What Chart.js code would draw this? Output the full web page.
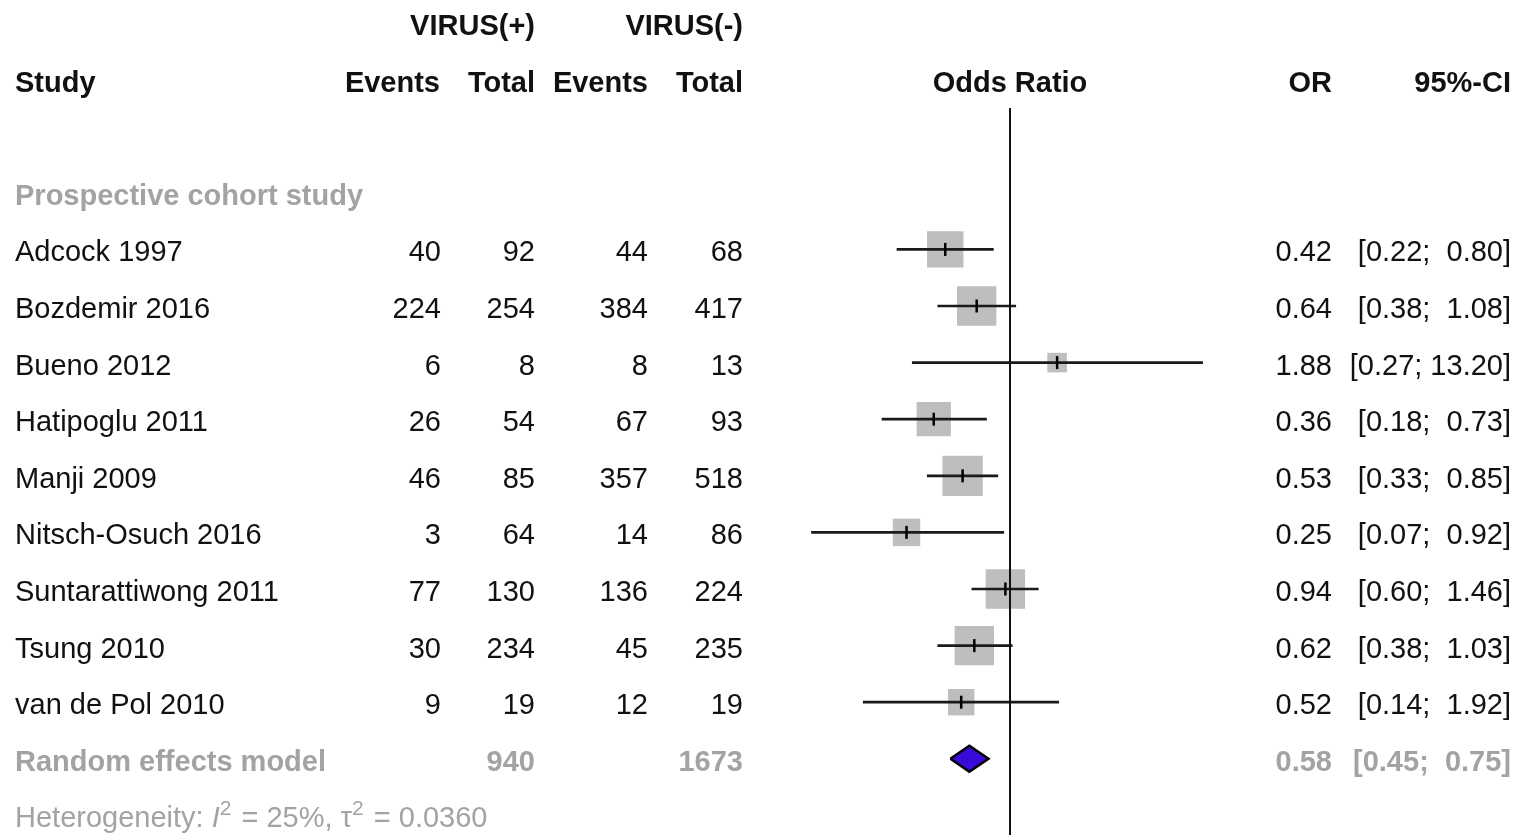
<!DOCTYPE html>
<html>
<head>
<meta charset="utf-8">
<script src="https://cdn.jsdelivr.net/npm/chart.js@4/dist/chart.umd.min.js"></script>
<style>
  html, body { margin: 0; padding: 0; background: #fff; }
  #wrap { width: 1520px; height: 835px; }
</style>
</head>
<body>
<div id="wrap"><canvas id="forest" width="1520" height="835"></canvas></div>
<script>
const studies = ['Adcock 1997', 'Bozdemir 2016', 'Bueno 2012', 'Hatipoglu 2011', 'Manji 2009',
  'Nitsch-Osuch 2016', 'Suntarattiwong 2011', 'Tsung 2010', 'van de Pol 2010'];
const eventsPos = [40, 224, 6, 26, 46, 3, 77, 30, 9];
const totalPos = [92, 254, 8, 54, 85, 64, 130, 234, 19];
const eventsNeg = [44, 384, 8, 67, 357, 14, 136, 45, 12];
const totalNeg = [68, 417, 13, 93, 518, 86, 224, 235, 19];
const oddsRatio = [0.42, 0.64, 1.88, 0.36, 0.53, 0.25, 0.94, 0.62, 0.52];
const ciLow = [0.22, 0.38, 0.27, 0.18, 0.33, 0.07, 0.60, 0.38, 0.14];
const ciHigh = [0.80, 1.08, 13.20, 0.73, 0.85, 0.92, 1.46, 1.03, 1.92];
const weights = [12.5, 14.6, 3.6, 11.1, 15.3, 7.1, 14.6, 14.6, 6.6];
const pooled = [0.58, 0.45, 0.75]; // OR, lower, upper
const pooledTotals = [940, 1673];
const heterogeneity = ['25%', '0.0360'];
const subgroup = 'Prospective cohort study';

const FONT = '"Liberation Sans", Arial, Helvetica, sans-serif';
const FS = 29;
const GREY_TXT = '#a3a3a3';
const firstRow = 4; // row index of first study

const studyRows = studies.map((_, i) => firstRow + i);
const pooledRow = firstRow + studies.length;

function fmt(v) { return v.toFixed(2); }
function ciText(lo, hi) {
  let h = fmt(hi);
  while (h.length < 5) h = ' ' + h;
  return '[' + fmt(lo) + '; ' + h + ']';
}

const tablePlugin = {
  id: 'forestTable',
  afterDraw(chart) {
    const ctx = chart.ctx;
    const y = chart.scales.y;
    const x = chart.scales.x;
    const rowY = r => y.getPixelForValue(r) + 12;

    ctx.save();
    // reference line at OR = 1
    ctx.strokeStyle = '#111';
    ctx.lineWidth = 2;
    ctx.beginPath();
    ctx.moveTo(x.getPixelForValue(1), y.getPixelForValue(1.5));
    ctx.lineTo(x.getPixelForValue(1), chart.height);
    ctx.stroke();

    function txt(s, px, r, align, bold, color) {
      ctx.font = (bold ? 'bold ' : '') + FS + 'px ' + FONT;
      ctx.textAlign = align;
      ctx.textBaseline = 'alphabetic';
      ctx.fillStyle = color || '#111';
      ctx.fillText(s, px, rowY(r));
    }

    // headers
    txt('VIRUS(+)', 535, 0, 'right', true);
    txt('VIRUS(-)', 743, 0, 'right', true);
    txt('Study', 15, 1, 'left', true);
    txt('Events', 440, 1, 'right', true);
    txt('Total', 535, 1, 'right', true);
    txt('Events', 648, 1, 'right', true);
    txt('Total', 743, 1, 'right', true);
    txt('Odds Ratio', x.getPixelForValue(1), 1, 'center', true);
    txt('OR', 1332, 1, 'right', true);
    txt('95%-CI', 1511, 1, 'right', true);

    txt(subgroup, 15, 3, 'left', true, GREY_TXT);

    studies.forEach((s, i) => {
      const r = studyRows[i];
      txt(s, 15, r, 'left');
      txt(String(eventsPos[i]), 441, r, 'right');
      txt(String(totalPos[i]), 535, r, 'right');
      txt(String(eventsNeg[i]), 648, r, 'right');
      txt(String(totalNeg[i]), 743, r, 'right');
      txt(fmt(oddsRatio[i]), 1332, r, 'right');
      txt(ciText(ciLow[i], ciHigh[i]), 1511, r, 'right');
    });

    txt('Random effects model', 15, pooledRow, 'left', true, GREY_TXT);
    txt(String(pooledTotals[0]), 535, pooledRow, 'right', true, GREY_TXT);
    txt(String(pooledTotals[1]), 743, pooledRow, 'right', true, GREY_TXT);
    txt(fmt(pooled[0]), 1332, pooledRow, 'right', true, GREY_TXT);
    txt(ciText(pooled[1], pooled[2]), 1511, pooledRow, 'right', true, GREY_TXT);

    // heterogeneity line with superscripts
    const hy = rowY(pooledRow + 1);
    let cx = 15;
    ctx.textAlign = 'left';
    ctx.fillStyle = GREY_TXT;
    const parts = [
      ['Heterogeneity: ', FS + 'px ' + FONT, 0],
      ['I', 'italic ' + FS + 'px ' + FONT, 0],
      ['2', '21px ' + FONT, -12],
      [' = ' + heterogeneity[0] + ', \u03C4', FS + 'px ' + FONT, 0],
      ['2', '21px ' + FONT, -12],
      [' = ' + heterogeneity[1], FS + 'px ' + FONT, 0]
    ];
    parts.forEach(([s, f, dy]) => {
      ctx.font = f;
      ctx.fillText(s, cx, hy + dy);
      cx += ctx.measureText(s).width + (dy ? 2 : 0);
    });
    ctx.restore();
  }
};

const squareSide = weights.map(w => 10.3 * Math.sqrt(w));
const diamondHalf = 0.23;

new Chart(document.getElementById('forest'), {
  type: 'scatter',
  data: {
    datasets: [
      {
        // point estimate ticks
        data: oddsRatio.map((v, i) => ({ x: v, y: studyRows[i] })),
        pointStyle: 'line',
        rotation: 90,
        pointRadius: 6.5,
        borderColor: '#000',
        borderWidth: 2.5,
        order: 0
      },
      {
        // confidence intervals
        type: 'bar',
        indexAxis: 'y',
        data: ciLow.map((lo, i) => ({ y: studyRows[i], x: [lo, ciHigh[i]] })),
        backgroundColor: '#1a1a1a',
        barThickness: 2,
        grouped: false,
        order: 1
      },
      {
        // weight squares
        data: oddsRatio.map((v, i) => ({ x: v, y: studyRows[i] })),
        pointStyle: 'rect',
        pointRadius: squareSide.map(s => s / Math.SQRT2),
        backgroundColor: '#bebebe',
        borderWidth: 0,
        order: 2
      },
      {
        // pooled diamond
        data: [
          { x: pooled[1], y: pooledRow },
          { x: pooled[0], y: pooledRow - diamondHalf },
          { x: pooled[2], y: pooledRow },
          { x: pooled[0], y: pooledRow + diamondHalf },
          { x: pooled[1], y: pooledRow }
        ],
        showLine: true,
        fill: 'shape',
        backgroundColor: '#3a0ad8',
        borderColor: '#000',
        borderWidth: 2.5,
        pointRadius: 0,
        tension: 0,
        order: 3
      }
    ]
  },
  options: {
    responsive: false,
    animation: false,
    events: [],
    layout: { autoPadding: false, padding: { left: 800, right: 300, top: 0, bottom: 0 } },
    plugins: { legend: { display: false }, tooltip: { enabled: false } },
    scales: {
      x: { type: 'logarithmic', min: 0.06, max: 1 / 0.06, offset: false, display: false },
      y: { type: 'linear', reverse: true, offset: false, grace: 0,
           min: -23 / 56.6, max: -23 / 56.6 + 835 / 56.6, display: false }
    }
  },
  plugins: [tablePlugin]
});
</script>
</body>
</html>
